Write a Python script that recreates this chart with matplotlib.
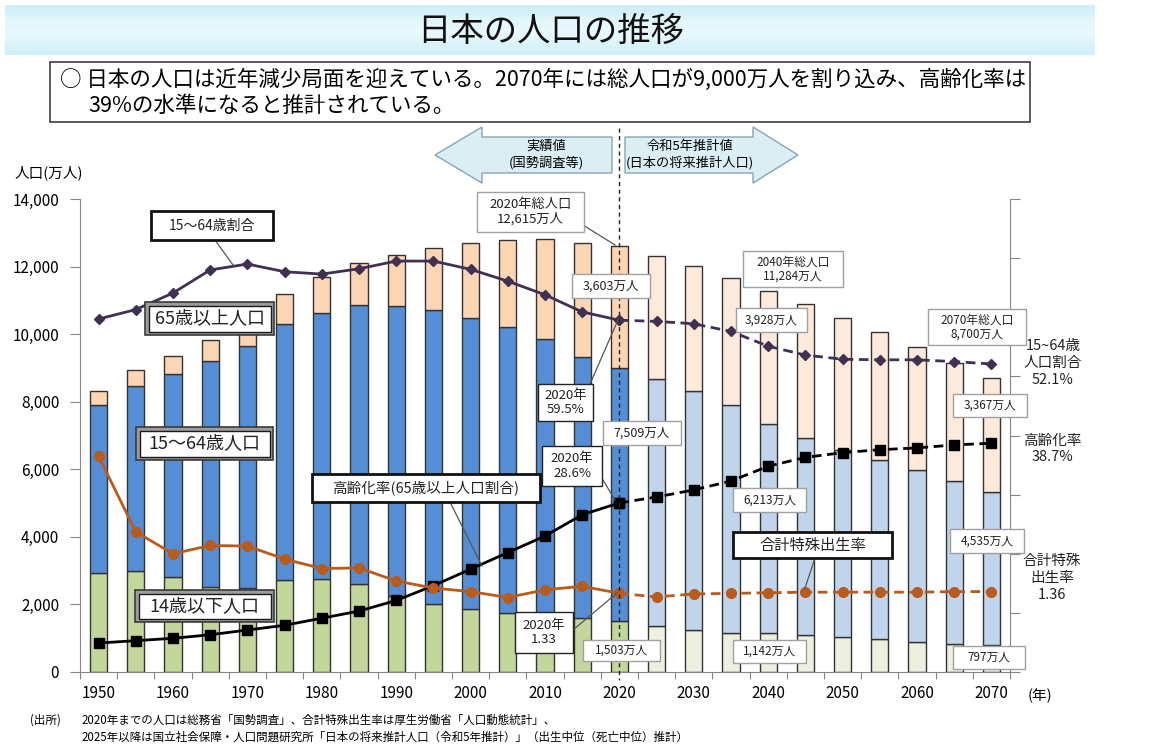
import matplotlib
matplotlib.use('Agg')
import matplotlib.pyplot as plt
import numpy as np
from matplotlib.patches import Rectangle, Polygon

plt.rcParams['font.family'] = ['Noto Sans CJK JP', 'DejaVu Sans']

# ---------------- data ----------------
years = [1950, 1955, 1960, 1965, 1970, 1975, 1980, 1985, 1990, 1995, 2000, 2005, 2010,
         2015, 2020, 2025, 2030, 2035, 2040, 2045, 2050, 2055, 2060, 2065, 2070]
pop_0_14 = [2943, 2980, 2807, 2517, 2482, 2722, 2751, 2603, 2249, 2003, 1851, 1757, 1684,
            1595, 1503, 1363, 1240, 1169, 1142, 1103, 1041, 966, 893, 836, 797]
pop_15_64 = [4966, 5473, 6000, 6693, 7157, 7581, 7883, 8251, 8590, 8726, 8638, 8442, 8174,
             7735, 7509, 7310, 7076, 6722, 6213, 5832, 5540, 5307, 5078, 4809, 4535]
pop_65 = [411, 475, 535, 618, 733, 887, 1065, 1247, 1493, 1828, 2204, 2578, 2948,
          3379, 3603, 3653, 3696, 3773, 3928, 3945, 3888, 3778, 3644, 3513, 3367]
ratio_15_64 = [59.7, 61.3, 64.1, 68.0, 69.0, 67.7, 67.3, 68.2, 69.5, 69.5, 68.1, 66.1, 63.8,
               60.9, 59.5, 59.3, 58.9, 57.6, 55.1, 53.6, 52.9, 52.8, 52.8, 52.5, 52.1]
aging_rate = [4.9, 5.3, 5.7, 6.3, 7.1, 7.9, 9.1, 10.3, 12.1, 14.6, 17.4, 20.2, 23.0,
              26.6, 28.6, 29.6, 30.8, 32.3, 34.8, 36.3, 37.1, 37.6, 37.9, 38.4, 38.7]
tfr = [3.65, 2.37, 2.00, 2.14, 2.13, 1.91, 1.75, 1.76, 1.54, 1.42, 1.36, 1.26, 1.39,
       1.45, 1.33, 1.27, 1.32, 1.33, 1.34, 1.35, 1.35, 1.35, 1.35, 1.36, 1.36]
y_ticks = [0, 2000, 4000, 6000, 8000, 10000, 12000, 14000]
x_label_years = ['1950', '1960', '1970', '1980', '1990', '2000', '2010', '2020',
                 '2030', '2040', '2050', '2060', '2070']

n_actual = 15  # up to 2020

# ---------------- figure ----------------
W, H = 1152, 753
fig = plt.figure(figsize=(W / 100, H / 100), dpi=100)
fig.patch.set_facecolor('white')

L, R, T, B = 80, 1010, 199, 672
ax = fig.add_axes([L / W, (H - B) / H, (R - L) / W, (B - T) / H])
ax2 = ax.twinx()
ax3 = ax.twinx()

x = np.arange(len(years))
past = x < n_actual
col_014 = np.where(past, '#c3d69b', '#ebf1de')
col_1564 = np.where(past, '#558ed5', '#c0d4ec')
col_65 = np.where(past, '#fcd5b5', '#fdeada')
a = np.array(pop_0_14)
b = np.array(pop_15_64)
c = np.array(pop_65)
bw = 0.46
ax.bar(x, a, bw, color=col_014, edgecolor='#333333', linewidth=1.0, zorder=2)
ax.bar(x, b, bw, bottom=a, color=col_1564, edgecolor='#333333', linewidth=1.0, zorder=2)
ax.bar(x, c, bw, bottom=a + b, color=col_65, edgecolor='#333333', linewidth=1.0, zorder=2)

ax.set_xlim(-0.5, len(years) - 0.5)
ax.set_ylim(0, 14000)
ax.set_yticks(y_ticks)
ax.set_yticklabels([f'{v:,}' for v in y_ticks], fontsize=11)
ax.set_xticks(np.arange(-0.5, len(years), 1.0))
ax.set_xticklabels([])
ax.set_xticks(np.arange(0, len(years), 2), minor=True)
ax.set_xticklabels(x_label_years, minor=True, fontsize=11)
ax.tick_params(axis='x', which='major', length=5, color='#868686', direction='out')
ax.tick_params(axis='x', which='minor', length=0, pad=9)
ax.tick_params(axis='y', length=7, color='#868686', direction='out', pad=8)
for s in ['top', 'right']:
    ax.spines[s].set_visible(False)
for s in ['left', 'bottom']:
    ax.spines[s].set_color('#868686')

# secondary axis (percent)
ax2.set_ylim(0, 80)
ax2.set_yticks(np.arange(0, 81, 10))
ax2.set_yticklabels([])
ax2.tick_params(axis='y', length=7, color='#868686', direction='out')
for s in ['top', 'left', 'bottom']:
    ax2.spines[s].set_visible(False)
ax2.spines['right'].set_color('#868686')
ax3.set_ylim(0, 8)
ax3.axis('off')

def split_plot(axis, vals, color, marker, ms):
    v = np.array(vals)
    axis.plot(x[:n_actual], v[:n_actual], color=color, lw=2, marker=marker, ms=ms,
              markeredgecolor=color, markerfacecolor=color, zorder=5, solid_capstyle='round')
    axis.plot(x[n_actual - 1:], v[n_actual - 1:], color=color, lw=2, ls=(0, (3.5, 2)),
              marker=marker, ms=ms, markeredgecolor=color, markerfacecolor=color, zorder=5)

split_plot(ax2, ratio_15_64, '#403152', 'D', 5.5)
split_plot(ax2, aging_rate, '#000000', 's', 7)
split_plot(ax3, tfr, '#b95b1c', 'o', 7)

# ---------------- overlay (pixel coordinates) ----------------
ov = fig.add_axes([0, 0, 1, 1])
ov.set_xlim(0, W)
ov.set_ylim(H, 0)
ov.axis('off')
ov.patch.set_visible(False)

# title band gradient
grad = np.array([0.0, 0.35, 0.6, 0.75, 0.6, 0.35, 0.1])[:, None]
top_col = np.array([0.80, 0.94, 0.97])
white = np.array([0.96, 0.99, 1.0])
img = (1 - grad)[..., None] * top_col + grad[..., None] * white
img = np.repeat(img, 2, axis=1)
ov.imshow(img, extent=[5, 1095, 55, 5], aspect='auto', interpolation='bicubic', zorder=1)
ov.text(551, 31, '日本の人口の推移', fontsize=24, ha='center', va='center', color='#111111', zorder=2)

# message box
ov.add_patch(Rectangle((50, 62), 980, 60, facecolor='white', edgecolor='#404040', lw=1.2, zorder=2))
ov.text(60, 80, '○ 日本の人口は近年減少局面を迎えている。2070年には総人口が9,000万人を割り込み、高齢化率は',
        fontsize=15.5, ha='left', va='center', zorder=3)
ov.text(88, 106, '39%の水準になると推計されている。', fontsize=15.5, ha='left', va='center', zorder=3)

# arrows
ov.add_patch(Polygon([(435, 155), (482, 127), (482, 137), (612, 137), (612, 173), (482, 173), (482, 183)],
                     closed=True, facecolor='#dbeef4', edgecolor='#8aa3b2', lw=1, zorder=2))
ov.add_patch(Polygon([(625, 137), (753, 137), (753, 127), (798, 155), (753, 183), (753, 173), (625, 173)],
                     closed=True, facecolor='#dbeef4', edgecolor='#8aa3b2', lw=1, zorder=2))
ov.text(546, 146, '実績値', fontsize=9.5, ha='center', va='center', zorder=3)
ov.text(546, 163, '(国勢調査等)', fontsize=9.5, ha='center', va='center', zorder=3)
ov.text(690, 146, '令和5年推計値', fontsize=9.5, ha='center', va='center', zorder=3)
ov.text(690, 163, '(日本の将来推計人口)', fontsize=9.5, ha='center', va='center', zorder=3)

# vertical dashed divider at 2020
xd = ov.transData.inverted().transform(ax.transData.transform((n_actual - 1, 0)))[0]
ov.plot([xd, xd], [128, 680], color='#222222', lw=1, ls=(0, (3, 2.5)), zorder=2)

# axis texts
ov.text(15, 173, '人口(万人)', fontsize=10.5, ha='left', va='center')
ov.text(1028, 696, '(年)', fontsize=10.5, ha='left', va='center')
ov.text(30, 720, '(出所)', fontsize=8.3, ha='left', va='center')
ov.text(82, 720, '2020年までの人口は総務省「国勢調査」、合計特殊出生率は厚生労働省「人口動態統計」、',
        fontsize=8.3, ha='left', va='center')
ov.text(82, 737, '2025年以降は国立社会保障・人口問題研究所「日本の将来推計人口（令和5年推計）」（出生中位（死亡中位）推計）',
        fontsize=8.3, ha='left', va='center')


def box(x0, y0, x1, y1, text, fs=9, edge='#a0a0a0', lw=1.0, style='plain'):
    if style == 'double':
        ov.add_patch(Rectangle((x0, y0), x1 - x0, y1 - y0, facecolor='#9c9c9c',
                               edgecolor='#3a3a3a', lw=1.2, zorder=6))
        ov.add_patch(Rectangle((x0 + 3.5, y0 + 3.5), x1 - x0 - 7, y1 - y0 - 7, facecolor='white',
                               edgecolor='#1a1a1a', lw=1.0, zorder=6))
    else:
        ov.add_patch(Rectangle((x0, y0), x1 - x0, y1 - y0, facecolor='white',
                               edgecolor=edge, lw=lw, zorder=6))
    ov.text((x0 + x1) / 2, (y0 + y1) / 2, text, fontsize=fs, ha='center', va='center',
            linespacing=1.15, color='#222222', zorder=7)


def leader(p0, p1):
    ov.plot([p0[0], p1[0]], [p0[1], p1[1]], color='#555555', lw=0.9, zorder=6)


# labels for series
leader((215, 240), (233, 265))
box(151, 211, 273, 240, '15〜64歳割合', fs=10, edge='#111111', lw=2)
box(145, 302, 274, 335, '65歳以上人口', fs=13, style='double')
box(136, 427, 273, 460, '15〜64歳人口', fs=13, style='double')
box(135, 590, 274, 622, '14歳以下人口', fs=13, style='double')
leader((450, 502), (482, 566))
box(312, 474, 540, 502, '高齢化率(65歳以上人口割合)', fs=10.5, edge='#111111', lw=2)
leader((815, 558), (805, 588))
box(733, 532, 892, 558, '合計特殊出生率', fs=11, edge='#111111', lw=2)

# 2020 callouts
leader((583, 225), (615, 245))
box(477, 192, 584, 232, '2020年総人口\n12,615万人', fs=9.5)
box(572, 274, 650, 298, '3,603万人', fs=9)
leader((590, 384), (618, 320))
box(538, 384, 593, 421, '2020年\n59.5%', fs=9.5, edge='#222222')
box(603, 421, 681, 445, '7,509万人', fs=9)
leader((597, 470), (615, 500))
box(542, 446, 602, 486, '2020年\n28.6%', fs=9.5, edge='#222222')
leader((573, 630), (617, 593))
box(515, 612, 573, 653, '2020年\n1.33', fs=9.5, edge='#222222')
box(583, 640, 660, 661, '1,503万人', fs=8.5)

# 2040 callouts
box(743, 251, 843, 287, '2040年総人口\n11,284万人', fs=8.5)
box(736, 308, 807, 332, '3,928万人', fs=8.5)
box(733, 488, 806, 512, '6,213万人', fs=8.5)
box(733, 640, 806, 663, '1,142万人', fs=8.5)

# 2070 callouts
box(928, 309, 1026, 345, '2070年総人口\n8,700万人', fs=8.5)
box(953, 394, 1027, 417, '3,367万人', fs=8.5)
box(950, 529, 1024, 553, '4,535万人', fs=8.5)
box(953, 646, 1025, 669, '797万人', fs=8.5)

# right-side labels
ov.text(1053, 363, '15~64歳\n人口割合\n52.1%', fontsize=10.5, ha='center', va='center',
        linespacing=1.25, color='#222222')
ov.text(1052, 449, '高齢化率\n38.7%', fontsize=10.5, ha='center', va='center',
        linespacing=1.25, color='#222222')
ov.text(1052, 578, '合計特殊\n出生率\n1.36', fontsize=10.5, ha='center', va='center',
        linespacing=1.25, color='#222222')

fig.savefig('out.png', dpi=100, facecolor='white')
